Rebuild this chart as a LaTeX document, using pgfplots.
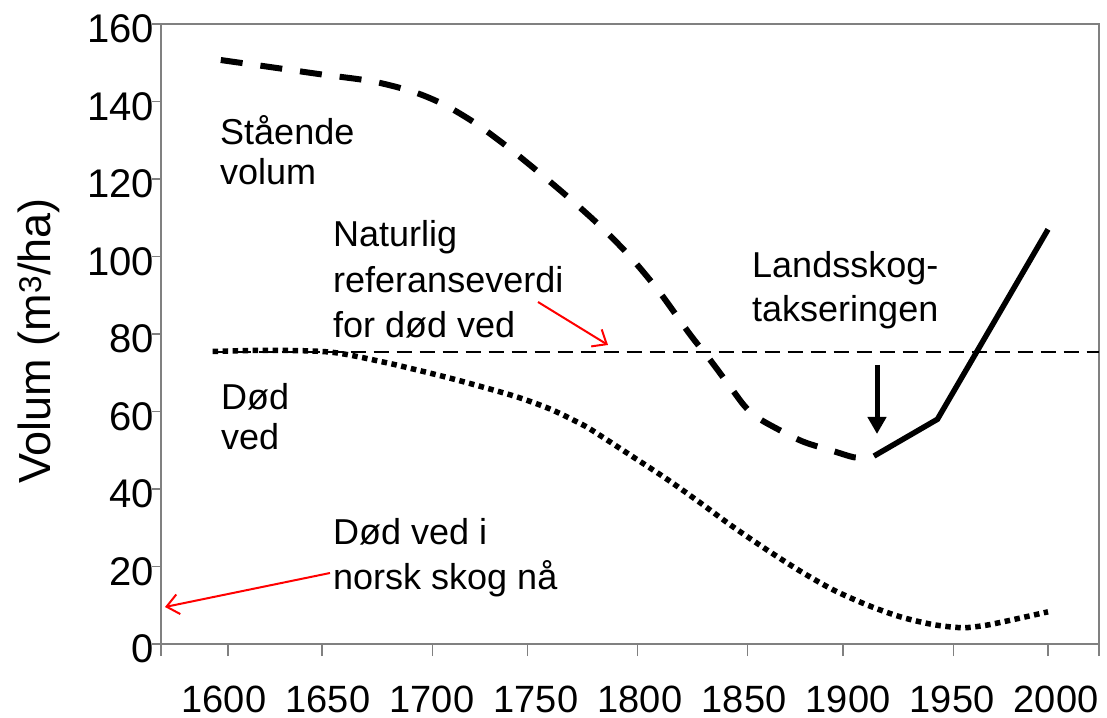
\documentclass[border=0pt]{standalone}
\usepackage{fontspec}
\setmainfont{Liberation Sans}
\usepackage{pgfplots}
\pgfplotsset{compat=1.18}
\usetikzlibrary{arrows.meta}
\definecolor{axgray}{HTML}{808080}
\begin{document}
\begin{tikzpicture}
\path[use as bounding box] (0,0) rectangle (1107bp,718bp);
\begin{axis}[
  at={(161bp,74bp)}, anchor=south west,
  width=938bp, height=620bp, scale only axis,
  xmin=1566.8, xmax=2024.9, ymin=0, ymax=160,
  clip=false,
  axis line style={draw=axgray, line width=2bp},
  /pgf/number format/assume math mode=true,
  xtick pos=bottom, ytick pos=left,
  tick align=outside,
  major tick length=9bp,
  tick style={draw=axgray, line width=1.3bp},
  ytick={0,20,...,160},
  yticklabel style={anchor=east, inner sep=0pt, xshift=2bp, yshift=-5bp,
    font=\fontsize{40bp}{44bp}\selectfont},
  xtick={1597.56,1648.35,1699.15,1749.94,1800.73,1851.53,1902.32,1953.11,2003.91},
  xticklabels={1600,1650,1700,1750,1800,1850,1900,1950,2000},
  xtick style={draw=none},
  xticklabel style={anchor=center, inner sep=0pt, yshift=-46bp,
    font=\fontsize{38bp}{42bp}\selectfont},
  extra x ticks={1566.8,1599.5,1645.5,1699.3,1745.7,1799.5,1853.3,1899.8,1954.0,2000,2024.9},
  extra x tick labels={},
  extra x tick style={major tick length=12bp, xtick style={draw=axgray, line width=1.3bp}},
]
% Staaende volum (dashed)
\addplot[black, line width=6bp, dash pattern=on 22bp off 18bp, smooth, tension=0.5] coordinates {
(1596,150.7) (1620,148.9) (1645,147.0) (1670,145.2) (1690,142.5) (1705,139.2)
(1720,134.5) (1735,128.7) (1750,122.3) (1765,115.6) (1780,108.5) (1795,100.5)
(1810,91.0) (1825,80.0) (1835,73.3) (1845,66.2) (1852,61.3) (1858,58.5)
(1865,56.3) (1880,52.3) (1895,49.8) (1905,48.2) (1909,48.3)
};
% Landsskogtakseringen (solid)
\addplot[black, line width=5.5bp] coordinates {
(1915,48.5) (1946,58) (2000,107)
};
% Naturlig referanseverdi (thin dashed)
\addplot[black, line width=2.5bp, dash pattern=on 15bp off 8bp] coordinates {
(1592,75.4) (2024.9,75.4)
};
% Dod ved (dotted)
\addplot[black, line width=5.5bp, dash pattern=on 5.5bp off 4.5bp, smooth, tension=0.5] coordinates {
(1592,75.5) (1620,75.8) (1650,75.3) (1675,72.8) (1692,70.7) (1708,68.6)
(1724,66.3) (1741,63.7) (1757,60.6) (1773,56.5) (1781,53.9) (1797,48.4)
(1814,42.5) (1830,36.5) (1846,30.3) (1863,24.2) (1879,18.8) (1895,14.0)
(1912,10.0) (1928,7.0) (1944,5.0) (1958,4.2) (1968,4.7) (1977,5.6) (2000,8.3)
};
\end{axis}
% annotations
\begin{scope}[every node/.style={inner sep=0pt, anchor=base west, font=\fontsize{36bp}{40bp}\selectfont}]
\node at (220bp,573bp) {Stående};
\node at (220bp,533bp) {volum};
\node at (333bp,471bp) {Naturlig};
\node at (333bp,425bp) {referanseverdi};
\node at (333bp,380bp) {for død ved};
\node at (752bp,440bp) {Landsskog-};
\node at (752bp,396bp) {takseringen};
\node at (221bp,308bp) {Død};
\node at (221bp,268bp) {ved};
\node at (333bp,173bp) {Død ved i};
\node at (333bp,128bp) {norsk skog nå};
\end{scope}
\node[rotate=90, anchor=base, inner sep=0pt, font=\fontsize{45bp}{48bp}\selectfont] at (50bp,377bp) {Volum (m\textsuperscript{3}/ha)};
\draw[red, line width=2bp, -{Straight Barb[length=12bp,width=20bp]}] (538bp,416bp) -- (608bp,373bp);
\draw[red, line width=2bp, -{Straight Barb[length=12bp,width=20bp]}] (330bp,145bp) -- (165bp,111bp);
\draw[black, line width=5bp, -{Triangle[length=17bp,width=18bp]}] (877bp,353bp) -- (877bp,284bp);
\end{tikzpicture}
\end{document}
